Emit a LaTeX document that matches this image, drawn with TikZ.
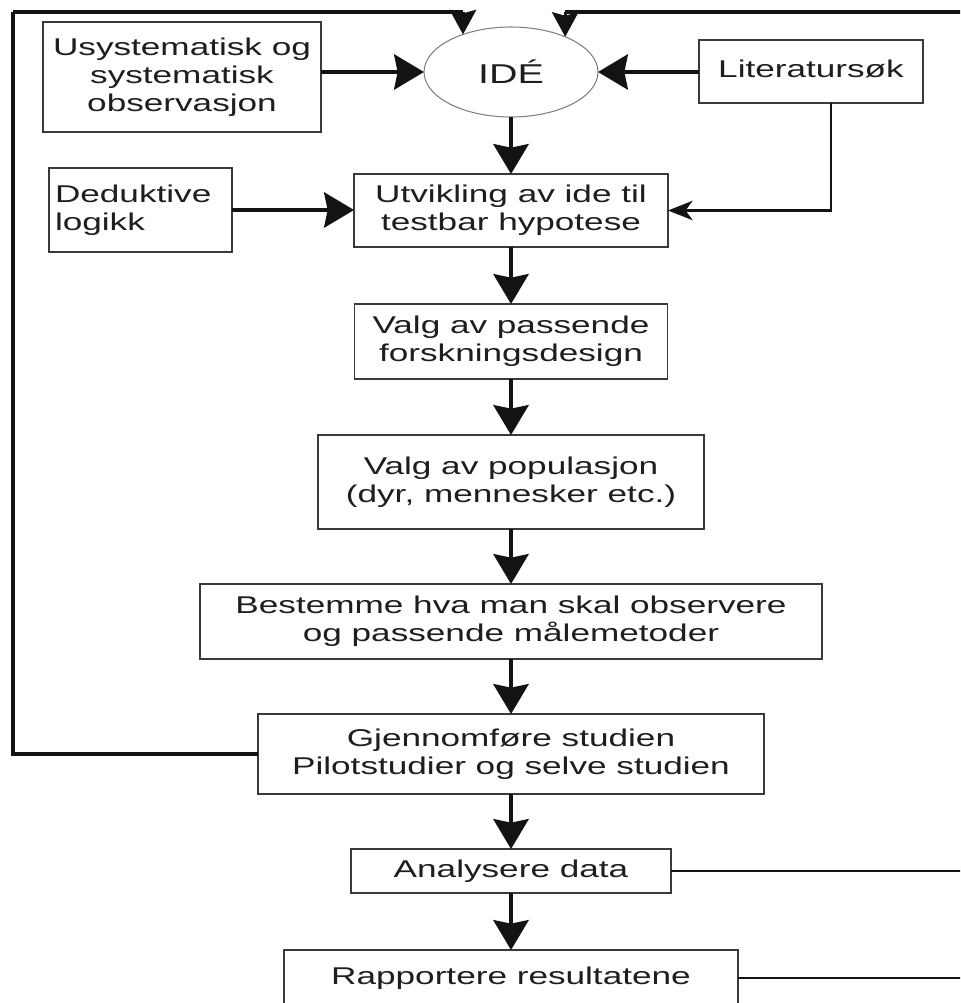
\documentclass[tikz,border=0pt]{standalone}
\usepackage{fontspec}
\setmainfont[FakeStretch=1.45]{Liberation Sans}
\usetikzlibrary{arrows.meta,shapes.geometric}
\definecolor{boxc}{HTML}{3A3A3A}
\definecolor{arrc}{HTML}{151212}
\definecolor{txtc}{HTML}{1E1E1E}
\newcommand\boxfont{\fontsize{13.8pt}{16pt}\selectfont}
\newcommand\idefont{\fontsize{15.5pt}{18pt}\selectfont}
\tikzset{
  box/.style={draw=boxc, line width=0.8pt, inner sep=0pt, outer sep=0pt, align=center, font=\boxfont, text=txtc},
  bigarrow/.style={draw=arrc, line width=2.4pt, -{Stealth[length=17pt,width=20pt,inset=2pt]}},
  toparrow/.style={draw=arrc, line width=1.8pt, -{Stealth[length=14pt,width=15pt,inset=2pt]}},
  smallarrow/.style={draw=arrc, line width=1.5pt, -{Stealth[length=14pt,width=11pt,inset=4pt]}},
  loopline/.style={draw=arrc, line width=2pt},
  topline/.style={draw=arrc, line width=1.8pt},
  edgeline/.style={draw=arrc, line width=1.6pt},
}
\begin{document}
\begin{tikzpicture}[x=0.02cm,y=-0.02cm]
\useasboundingbox (0,0) rectangle (960,1003);
\clip (0,0) rectangle (960,1003);
\fill[white] (0,0) rectangle (960,1003);

% nodes
\node[box, minimum width=5.56cm, minimum height=2.2cm] (usys) at (182,77) {Usystematisk og\\systematisk\\observasjon};
\node[box, minimum width=3.66cm, minimum height=1.68cm, text width=3.42cm, align=left] (ded) at (140.5,210) {Deduktive\\logikk};
\node[box, minimum width=4.48cm, minimum height=1.26cm] (lit) at (811,71.5) {\raisebox{3pt}{Literatursøk}};
\node[draw=gray, line width=0.6pt, ellipse, inner sep=0pt, outer sep=0pt, minimum width=3.48cm, minimum height=1.8cm, font=\idefont, text=txtc] (ide) at (511,72) {IDÉ};
\node[box, minimum width=6.28cm, minimum height=1.46cm] (utv) at (511,210.5) {Utvikling av ide til\\testbar hypotese};
\node[box, minimum width=6.26cm, minimum height=1.5cm] (vp) at (511,341.5) {Valg av passende\\forskningsdesign};
\node[box, minimum width=7.72cm, minimum height=1.88cm] (pop) at (511,482) {Valg av populasjon\\(dyr, mennesker etc.)};
\node[box, minimum width=12.44cm, minimum height=1.5cm] (best) at (511,621.5) {Bestemme hva man skal observere\\og passende målemetoder};
\node[box, minimum width=10.12cm, minimum height=1.6cm] (gjen) at (511,754) {Gjennomføre studien\\Pilotstudier og selve studien};
\node[box, minimum width=6.4cm, minimum height=0.88cm] (ana) at (511,871) {Analysere data};
\node[box, minimum width=9.08cm, minimum height=1.12cm] (rap) at (511,978) {Rapportere resultatene};

% coordinates
\coordinate (LL) at (13,12);
\coordinate (TR) at (965,12);

% main flow
\draw[bigarrow] (ide.south) -- (ide.south |- utv.north);
\draw[bigarrow] (utv.south) -- (utv.south |- vp.north);
\draw[bigarrow] (vp.south) -- (vp.south |- pop.north);
\draw[bigarrow] (pop.south) -- (pop.south |- best.north);
\draw[bigarrow] (best.south) -- (best.south |- gjen.north);
\draw[bigarrow] (gjen.south) -- (gjen.south |- ana.north);
\draw[bigarrow] (ana.south) -- (ana.south |- rap.north);

% side inputs
\draw[bigarrow] (usys.east |- ide.west) -- (ide.west);
\draw[bigarrow] (lit.west |- ide.east) -- (ide.east);
\draw[bigarrow] (ded.east) -- (ded.east -| utv.west);
\draw[smallarrow] ([xshift=0.4cm]lit.south) |- (utv.east);

% feedback loops
\draw[loopline] (gjen.west) -| (LL);
\draw[topline] (LL) -- (LL -| ide.142);
\draw[toparrow] (LL -| ide.142) -- (ide.142);
\draw[topline] (TR) -- (TR -| ide.33);
\draw[toparrow] (TR -| ide.33) -- (ide.33);
\draw[edgeline] (ana.east) -- (ana.east -| TR);
\draw[edgeline] (rap.east) -- (rap.east -| TR);
\end{tikzpicture}
\end{document}
